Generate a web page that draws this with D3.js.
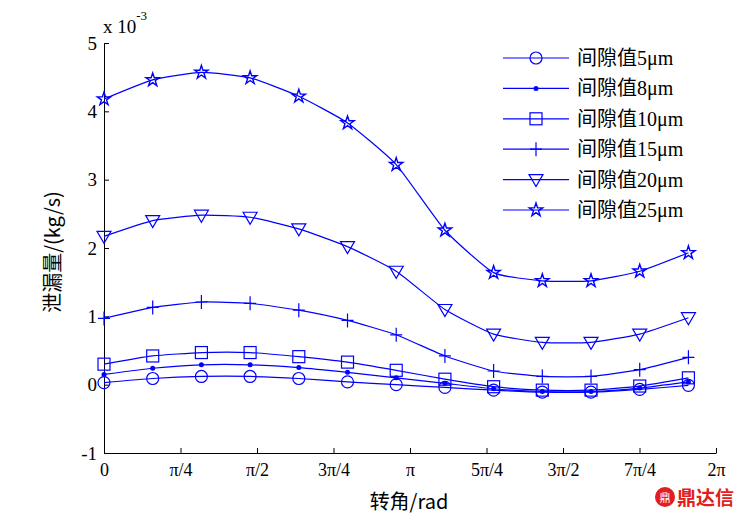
<!DOCTYPE html>
<html><head><meta charset="utf-8">
<script src="https://cdn.jsdelivr.net/npm/d3@7/dist/d3.min.js"></script>
<style>
html,body{margin:0;padding:0;background:#fff;}
svg{display:block;}
.serif{font-family:"Liberation Serif","Times New Roman",serif;}
.cjk{font-family:"Noto Sans CJK SC",sans-serif;}
</style></head>
<body>
<svg id="chart" width="756" height="519"></svg>
<script>
// Data (values in units of 1e-3 kg/s), angle step 0.5 rad
const angles = [0, 0.5, 1.0, 1.5, 2.0, 2.5, 3.0, 3.5, 4.0, 4.5, 5.0, 5.5, 6.0];
const gap5  = [0.03, 0.09, 0.12, 0.12, 0.09, 0.04, 0.00, -0.04, -0.08, -0.11, -0.11, -0.07, -0.01];
const gap8  = [0.15, 0.24, 0.29, 0.29, 0.25, 0.18, 0.10, 0.02, -0.06, -0.10, -0.10, -0.05, 0.04];
const gap10 = [0.30, 0.42, 0.47, 0.47, 0.41, 0.33, 0.21, 0.08, -0.03, -0.08, -0.08, -0.02, 0.10];
const gap15 = [0.97, 1.13, 1.21, 1.19, 1.09, 0.94, 0.73, 0.42, 0.20, 0.12, 0.12, 0.22, 0.40];
const gap20 = [2.17, 2.40, 2.48, 2.45, 2.28, 2.02, 1.66, 1.10, 0.74, 0.62, 0.62, 0.74, 0.98];
const gap25 = [4.18, 4.46, 4.57, 4.49, 4.22, 3.83, 3.22, 2.26, 1.64, 1.52, 1.52, 1.66, 1.93];
const seriesNames = ["间隙值5μm","间隙值8μm","间隙值10μm","间隙值15μm","间隙值20μm","间隙值25μm"];
const seriesMarkers = ["circle","dot","square","plus","triangle","star"];
const xTickValues = [0,1,2,3,4,5,6,7,8].map(k => k*Math.PI/4);
const xTickLabels = ["0","π/4","π/2","3π/4","π","5π/4","3π/2","7π/4","2π"];
const yTickValues = [-1,0,1,2,3,4,5];

const series = [gap5, gap8, gap10, gap15, gap20, gap25];
const blue = "#0000ff";
const svg = d3.select("#chart");

const x = d3.scaleLinear().domain([0, 2*Math.PI]).range([104, 716]);
const y = d3.scaleLinear().domain([-1, 5]).range([453, 43]);

// Axes
const xAxis = d3.axisBottom(x).tickValues(xTickValues).tickFormat((d,i)=>xTickLabels[i]).tickSizeInner(-5).tickSizeOuter(0).tickPadding(10);
const gx = svg.append("g").attr("transform","translate(0,453)").call(xAxis);
gx.attr("font-family",null).attr("font-size",null);
gx.select(".domain").attr("stroke","#000");
gx.selectAll("text").attr("class","serif").style("font-size","18px").attr("fill","#000");

const yAxis = d3.axisLeft(y).tickValues(yTickValues).tickFormat(d => String(d)).tickSizeInner(-5).tickSizeOuter(0).tickPadding(7);
const gy = svg.append("g").attr("transform","translate(104,0)").call(yAxis);
gy.attr("font-family",null).attr("font-size",null);
gy.select(".domain").attr("stroke","#000");
gy.selectAll("text").attr("class","serif").style("font-size","19px").attr("fill","#000");

// exponent
const ex = svg.append("text").attr("class","serif").attr("x",103).attr("y",33).style("font-size","19px").attr("fill","#000");
ex.append("tspan").text("x 10");
ex.append("tspan").attr("dy",-13).style("font-size","13px").text("-3");

// axis titles
svg.append("text").attr("class","cjk").attr("x",409).attr("y",509).attr("text-anchor","middle")
  .style("font-size","20px").attr("fill","#000").text("转角/rad");
svg.append("text").attr("class","cjk").attr("transform","translate(60,252) rotate(-90)").attr("text-anchor","middle")
  .style("font-size","20px").attr("fill","#000").text("泄漏量/(kg/s)");

// markers
function drawMarker(g, type, cx, cy) {
  if (type === "circle") {
    g.append("circle").attr("cx",cx).attr("cy",cy).attr("r",6).attr("fill","none").attr("stroke",blue).attr("stroke-width",1.2);
  } else if (type === "dot") {
    g.append("circle").attr("cx",cx).attr("cy",cy).attr("r",2.5).attr("fill",blue);
  } else if (type === "square") {
    g.append("rect").attr("x",cx-6).attr("y",cy-6).attr("width",12).attr("height",12).attr("fill","none").attr("stroke",blue).attr("stroke-width",1.2);
  } else if (type === "plus") {
    g.append("path").attr("d",`M${cx-6},${cy}H${cx+6}M${cx},${cy-7}V${cy+7}`).attr("stroke",blue).attr("fill","none").attr("stroke-width",1.2);
  } else if (type === "triangle") {
    g.append("path").attr("d",`M${cx-7},${cy-5}L${cx+7},${cy-5}L${cx},${cy+7}Z`).attr("stroke",blue).attr("fill","none").attr("stroke-width",1.2);
  } else if (type === "star") {
    g.append("path").attr("d", d3.symbol(d3.symbolStar, 55)()).attr("transform",`translate(${cx},${cy})`).attr("stroke",blue).attr("fill","none").attr("stroke-width",1.4);
  }
}

const line = d3.line().x((d,i)=>x(angles[i])).y(d=>y(d)).curve(d3.curveCardinal.tension(0.5));
series.forEach((vals, si) => {
  const g = svg.append("g");
  g.append("path").datum(vals).attr("d", line).attr("fill","none").attr("stroke",blue).attr("stroke-width",1.2);
  vals.forEach((v,i) => drawMarker(g, seriesMarkers[si], x(angles[i]), y(v)));
});

// legend
const lg = svg.append("g");
seriesNames.forEach((name, i) => {
  const ly = 58 + i*30.4;
  lg.append("line").attr("x1",503).attr("x2",569).attr("y1",ly).attr("y2",ly).attr("stroke",blue).attr("stroke-width",1.2);
  drawMarker(lg, seriesMarkers[i], 536, ly);
  const t = lg.append("text").attr("x",577).attr("y",ly+7).style("font-size","20px").attr("fill","#000");
  t.append("tspan").attr("class","cjk").text(name.slice(0,3));
  t.append("tspan").attr("class","serif").text(name.slice(3));
});

// watermark
const wm = svg.append("g");
wm.append("circle").attr("cx",665).attr("cy",497).attr("r",10).attr("fill","#e02020");
wm.append("text").attr("class","cjk").attr("x",665).attr("y",502).attr("text-anchor","middle").style("font-size","11px").attr("fill","#fff").text("鼎");
wm.append("text").attr("class","cjk").attr("x",677).attr("y",505).style("font-size","19px").style("font-weight","bold").attr("fill","#e02020").text("鼎达信");
</script>
</body></html>
